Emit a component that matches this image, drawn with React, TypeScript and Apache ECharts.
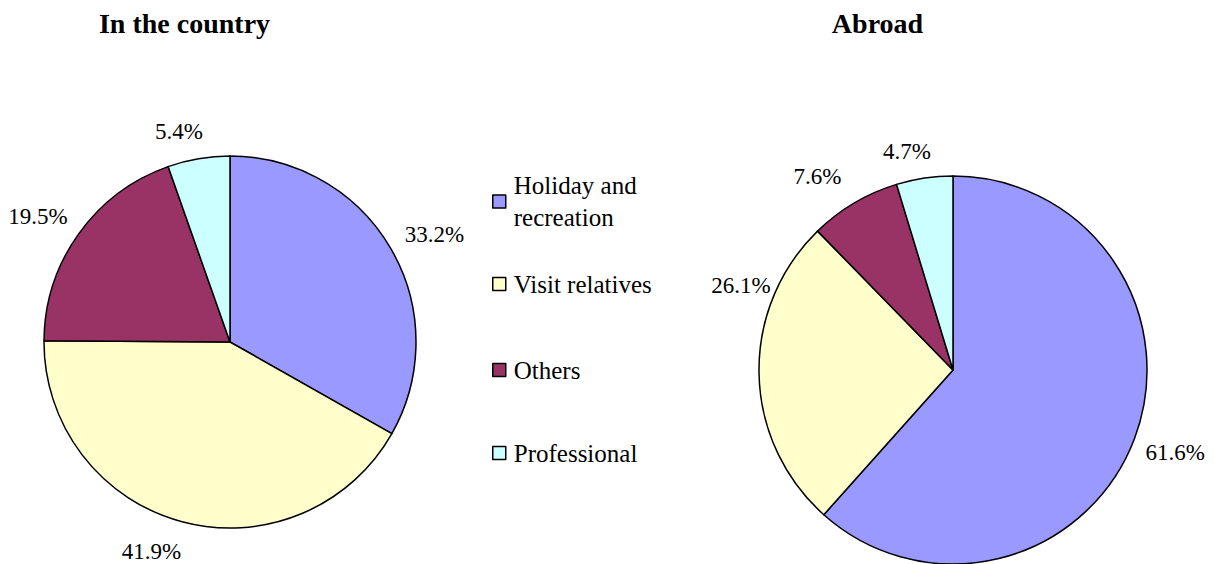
import React, { useEffect, useRef } from "react";
import * as echarts from "echarts";

const categories = ["Holiday and recreation", "Visit relatives", "Others", "Professional"];
const legendLabels = ["Holiday and\nrecreation", "Visit relatives", "Others", "Professional"];
const countryValues = [33.2, 41.9, 19.5, 5.4];
const abroadValues = [61.6, 26.1, 7.6, 4.7];
const titles = ["In the country", "Abroad"];

const colors = ["#9999FF", "#FFFFCC", "#993366", "#CCFFFF"];
const FONT = "Liberation Serif";

// label nudges (style only)
const countryNudge = [[5, 9], [-19, -14], [-4, 9], [-12, 17]];
const abroadNudge = [[-1, -3], [27, -90], [-14, 12], [-11, 18]];

export default function App() {
  const ref = useRef<HTMLDivElement>(null);
  useEffect(() => {
    if (!ref.current) return;
    const chart = echarts.init(ref.current, null, { renderer: "svg" });
    const L = { cx: 230, cy: 342, r: 186 };
    const R = { cx: 953, cy: 370, r: 194 };

    const mkData = (vals: number[]) =>
      vals.map((v, i) => ({ name: categories[i], value: v, itemStyle: { color: colors[i] } }));
    const mkLabelData = (vals: number[]) =>
      vals.map((v, i) => ({ name: categories[i], value: v }));

    const piePart = (c: any, vals: number[]) => ({
      type: "pie",
      center: [c.cx, c.cy],
      radius: [0, c.r],
      startAngle: 90,
      clockwise: true,
      silent: true,
      avoidLabelOverlap: false,
      label: { show: false },
      labelLine: { show: false },
      itemStyle: { borderColor: "#000", borderWidth: 1.5 },
      emphasis: { disabled: true },
      data: mkData(vals),
    });
    const labelPart = (c: any, vals: number[], nudge: number[][]) => ({
      type: "pie",
      center: [c.cx, c.cy],
      radius: [c.r + 30, c.r + 54],
      startAngle: 90,
      clockwise: true,
      silent: true,
      avoidLabelOverlap: false,
      itemStyle: { color: "rgba(0,0,0,0)", borderWidth: 0 },
      emphasis: { disabled: true },
      labelLine: { show: false },
      label: {
        show: true,
        position: "inside",
        formatter: (p: any) => Number(p.value).toFixed(1) + "%",
        color: "#000",
        fontFamily: FONT,
        fontSize: 23,
        lineHeight: 20,
      },
      labelLayout: (p: any) => {
        const n = nudge[p.dataIndex] || [0, 0];
        return { dx: n[0], dy: n[1] };
      },
      data: mkLabelData(vals),
    });

    const legendTops = [153.5, 268, 354, 437];
    const legends = categories.map((name, i) => ({
      orient: "vertical",
      left: 492,
      top: legendTops[i],
      padding: 0,
      data: [name],
      icon: "rect",
      itemWidth: 13,
      itemHeight: 13,
      selectedMode: false,
      itemStyle: { borderColor: "#000", borderWidth: 1.5 },
      formatter: () => legendLabels[i],
      textStyle: {
        fontFamily: FONT,
        fontSize: 25,
        lineHeight: 32,
        color: "#000",
        padding: i === 0 ? [32, 0, 0, 3] : [0, 0, 0, 3],
      },
    }));

    const titleEl = (text: string, x: number) => ({
      type: "text",
      x,
      y: 23,
      style: {
        text,
        font: `bold 28px "Liberation Serif"`,
        fill: "#000",
        align: "center",
        verticalAlign: "middle",
        textAlign: "center",
        textVerticalAlign: "middle",
      },
    });

    chart.setOption({
      animation: false,
      backgroundColor: "#fff",
      legend: legends,
      graphic: [titleEl(titles[0], 184.5), titleEl(titles[1], 877.5)],
      series: [
        piePart(L, countryValues),
        piePart(R, abroadValues),
        labelPart(L, countryValues, countryNudge),
        labelPart(R, abroadValues, abroadNudge),
      ],
    });
    return () => chart.dispose();
  }, []);
  return (
    <div
      ref={ref}
      style={{ position: "fixed", left: 0, top: 0, width: 1214, height: 564, background: "#fff" }}
    />
  );
}
